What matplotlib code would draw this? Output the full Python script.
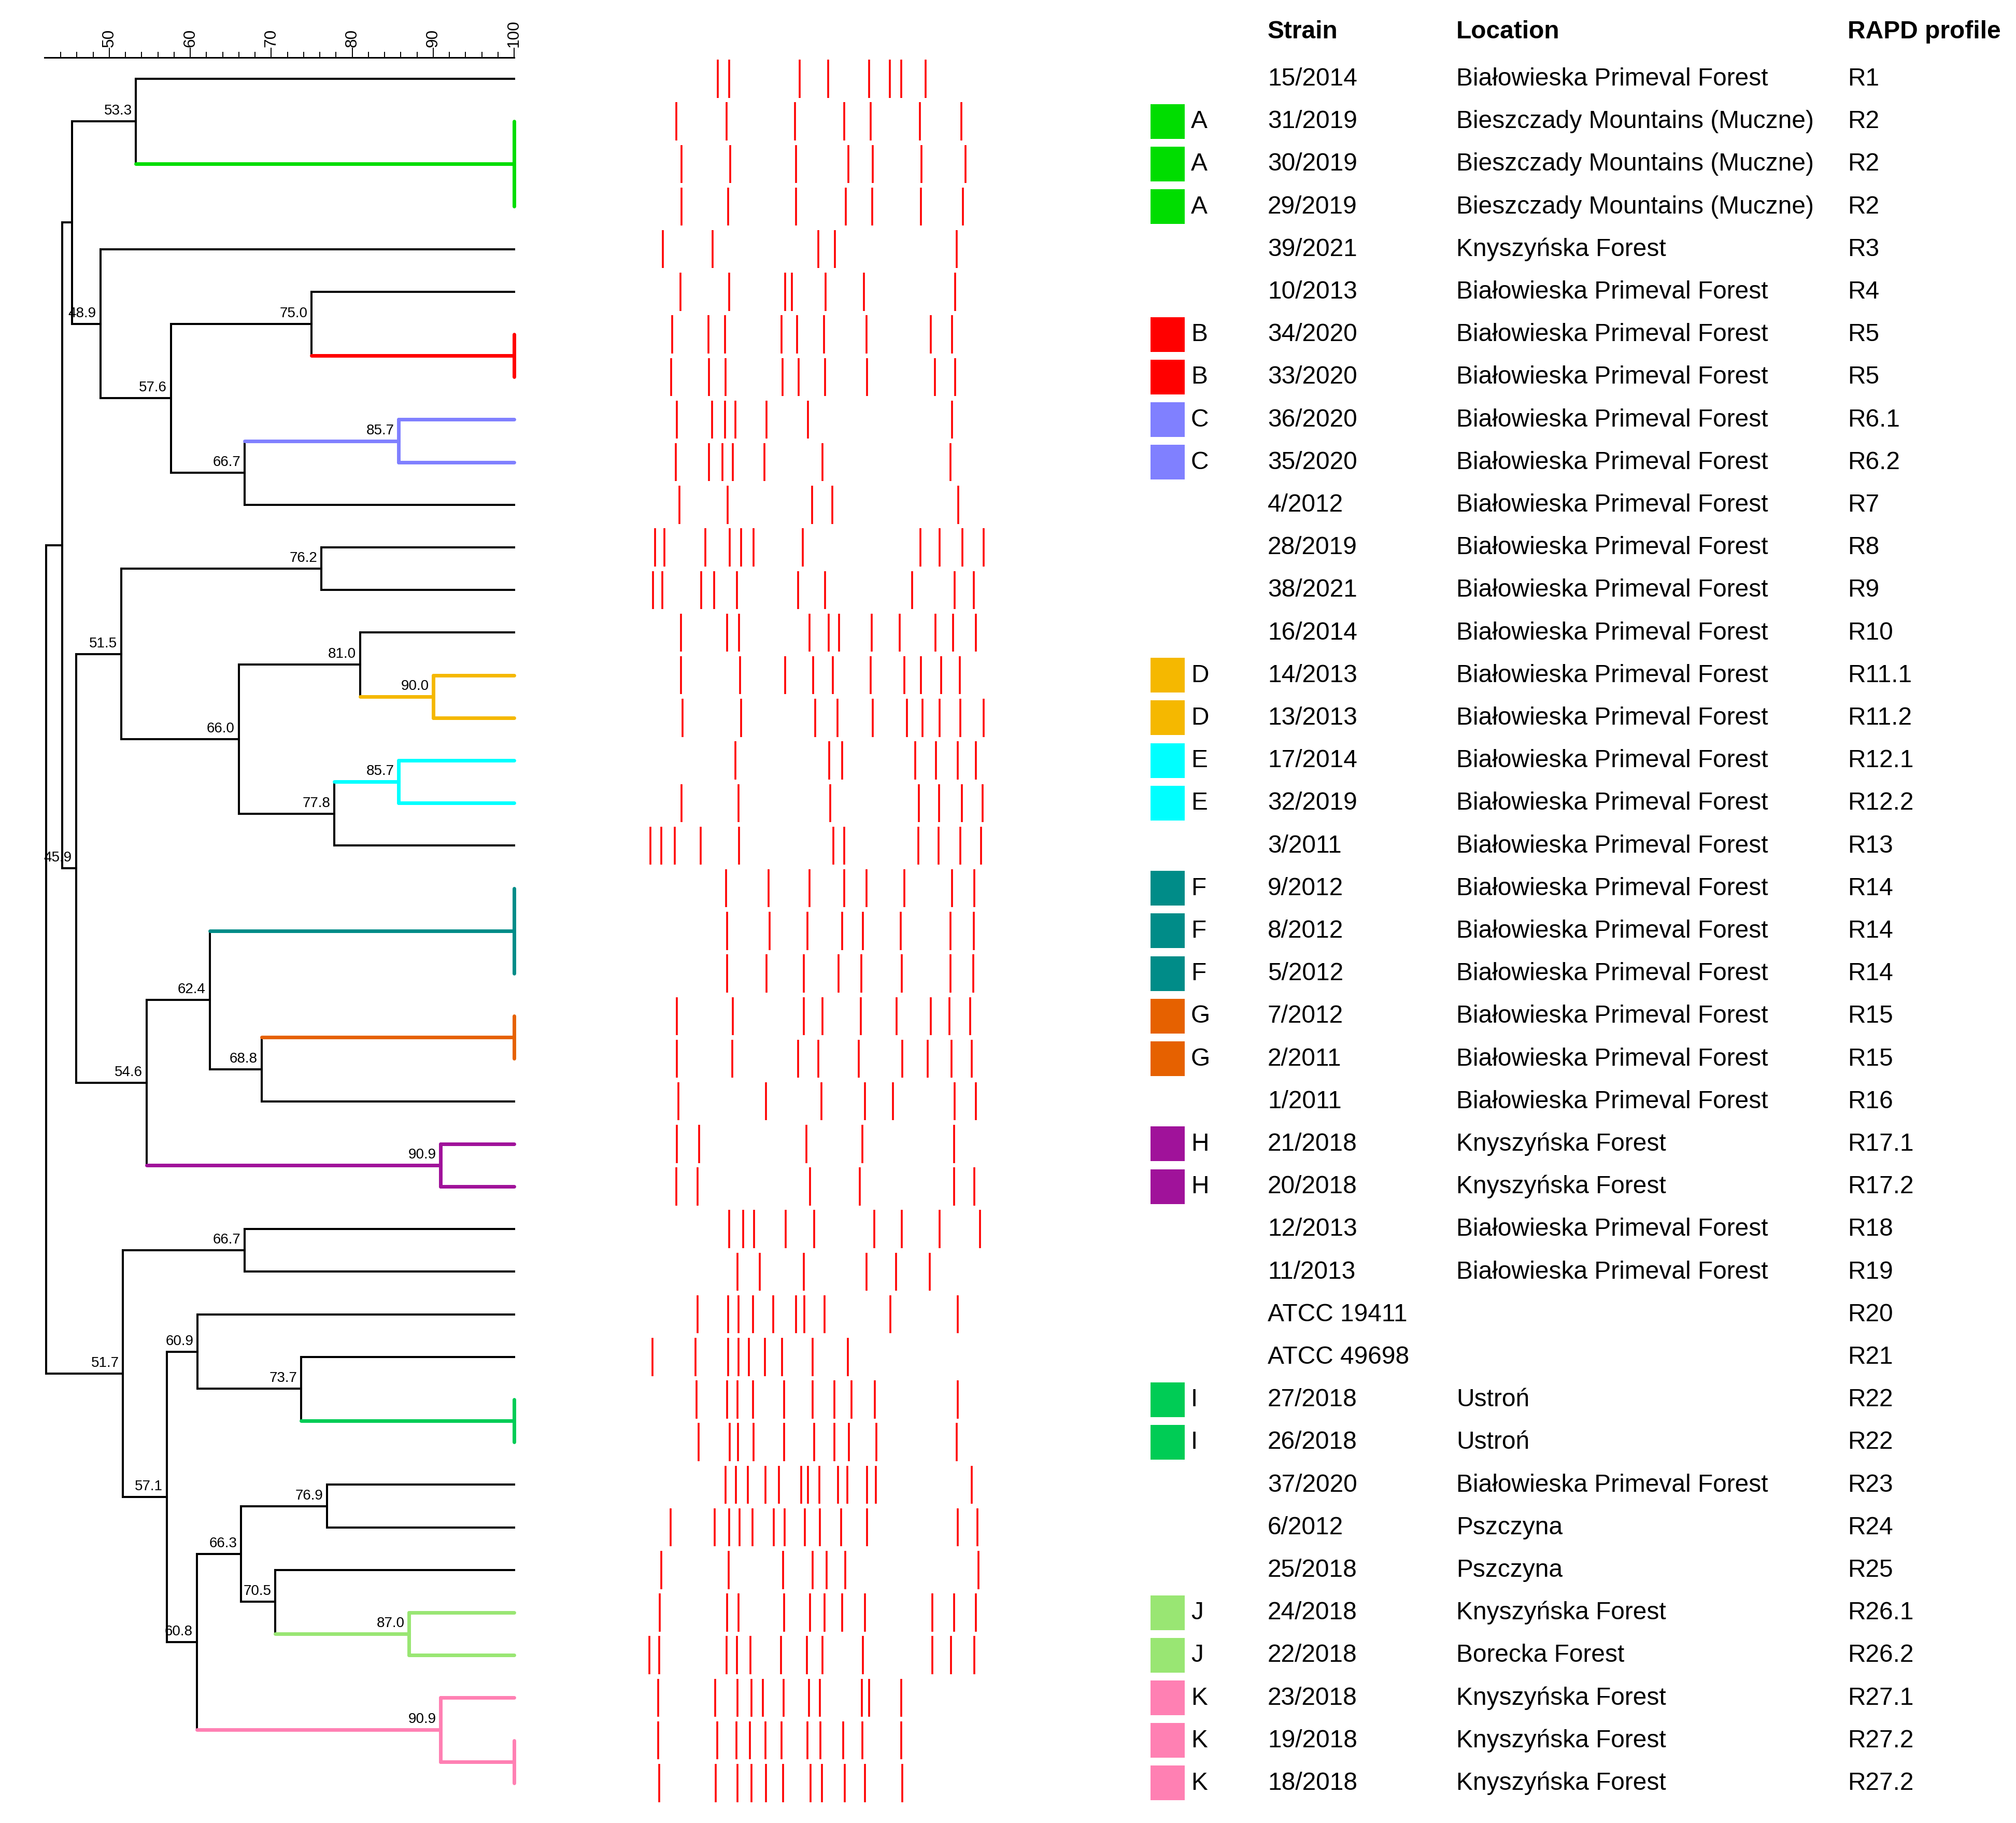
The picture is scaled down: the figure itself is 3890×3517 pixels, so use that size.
import matplotlib
matplotlib.use('Agg')
import matplotlib.pyplot as plt
from matplotlib.transforms import blended_transform_factory
from matplotlib.ticker import FixedLocator

plt.rcParams['font.family'] = ['Liberation Sans', 'DejaVu Sans']

# ---------------- data ----------------
strains = ['15/2014', '31/2019', '30/2019', '29/2019', '39/2021', '10/2013', '34/2020', '33/2020',
           '36/2020', '35/2020', '4/2012', '28/2019', '38/2021', '16/2014', '14/2013', '13/2013',
           '17/2014', '32/2019', '3/2011', '9/2012', '8/2012', '5/2012', '7/2012', '2/2011',
           '1/2011', '21/2018', '20/2018', '12/2013', '11/2013', 'ATCC 19411', 'ATCC 49698',
           '27/2018', '26/2018', '37/2020', '6/2012', '25/2018', '24/2018', '22/2018', '23/2018',
           '19/2018', '18/2018']

BPF = 'Białowieska Primeval Forest'
BMM = 'Bieszczady Mountains (Muczne)'
KF = 'Knyszyńska Forest'
locations = [BPF, BMM, BMM, BMM, KF, BPF, BPF, BPF, BPF, BPF, BPF, BPF, BPF, BPF, BPF, BPF,
             BPF, BPF, BPF, BPF, BPF, BPF, BPF, BPF, BPF, KF, KF, BPF, BPF, '', '',
             'Ustroń', 'Ustroń', BPF, 'Pszczyna', 'Pszczyna', KF, 'Borecka Forest', KF, KF, KF]

profiles = ['R1', 'R2', 'R2', 'R2', 'R3', 'R4', 'R5', 'R5', 'R6.1', 'R6.2', 'R7', 'R8', 'R9',
            'R10', 'R11.1', 'R11.2', 'R12.1', 'R12.2', 'R13', 'R14', 'R14', 'R14', 'R15', 'R15',
            'R16', 'R17.1', 'R17.2', 'R18', 'R19', 'R20', 'R21', 'R22', 'R22', 'R23', 'R24',
            'R25', 'R26.1', 'R26.2', 'R27.1', 'R27.2', 'R27.2']

groups = ['', 'A', 'A', 'A', '', '', 'B', 'B', 'C', 'C', '', '', '', '', 'D', 'D', 'E', 'E', '',
          'F', 'F', 'F', 'G', 'G', '', 'H', 'H', '', '', '', '', 'I', 'I', '', '', '', 'J', 'J',
          'K', 'K', 'K']

group_colors = {'A': '#00DD00', 'B': '#FF0000', 'C': '#8080FF', 'D': '#F5B800', 'E': '#00FFFF',
                'F': '#008C88', 'G': '#E66100', 'H': '#A0129A', 'I': '#00CC55', 'J': '#99E673',
                'K': '#FF80B3'}

# dendrogram nodes: key -> (similarity %, children, shown label)
tree_nodes = {
    'A': (100.0, [1, 2, 3], ''),
    'n53_3': (53.3, [0, 'A'], '53.3'),
    'B': (100.0, [6, 7], ''),
    'n75_0': (75.0, [5, 'B'], '75.0'),
    'C': (85.7, [8, 9], '85.7'),
    'n66_7a': (66.7, ['C', 10], '66.7'),
    'n57_6': (57.6, ['n75_0', 'n66_7a'], '57.6'),
    'n48_9': (48.9, [4, 'n57_6'], '48.9'),
    'n45_4': (45.4, ['n53_3', 'n48_9'], ''),
    'n76_2': (76.2, [11, 12], '76.2'),
    'D': (90.0, [14, 15], '90.0'),
    'n81_0': (81.0, [13, 'D'], '81.0'),
    'E': (85.7, [16, 17], '85.7'),
    'n77_8': (77.8, ['E', 18], '77.8'),
    'n66_0': (66.0, ['n81_0', 'n77_8'], '66.0'),
    'n51_5': (51.5, ['n76_2', 'n66_0'], '51.5'),
    'F': (100.0, [19, 20, 21], ''),
    'G': (100.0, [22, 23], ''),
    'n68_8': (68.8, ['G', 24], '68.8'),
    'n62_4': (62.4, ['F', 'n68_8'], '62.4'),
    'H': (90.9, [25, 26], '90.9'),
    'n54_6': (54.6, ['n62_4', 'H'], '54.6'),
    'n45_9': (45.9, ['n51_5', 'n54_6'], '45.9'),
    'n44_2': (44.2, ['n45_4', 'n45_9'], ''),
    'n66_7b': (66.7, [27, 28], '66.7'),
    'I': (100.0, [31, 32], ''),
    'n73_7': (73.7, [30, 'I'], '73.7'),
    'n60_9': (60.9, [29, 'n73_7'], '60.9'),
    'n76_9': (76.9, [33, 34], '76.9'),
    'J': (87.0, [36, 37], '87.0'),
    'n70_5': (70.5, [35, 'J'], '70.5'),
    'n66_3': (66.3, ['n76_9', 'n70_5'], '66.3'),
    'K2': (100.0, [39, 40], ''),
    'K': (90.9, [38, 'K2'], '90.9'),
    'n60_8': (60.8, ['n66_3', 'K'], '60.8'),
    'n57_1': (57.1, ['n60_9', 'n60_8'], '57.1'),
    'n51_7': (51.7, ['n66_7b', 'n57_1'], '51.7'),
    'root': (42.2, ['n44_2', 'n51_7'], ''),
}
cluster_color = {'A': 'A', 'B': 'B', 'C': 'C', 'D': 'D', 'E': 'E', 'F': 'F', 'G': 'G',
                 'H': 'H', 'I': 'I', 'J': 'J', 'K': 'K'}

# RAPD band positions per strain (position along the lane, gel units 0-1550)
band_positions = [
    [333, 381, 673, 792, 962, 1049, 1095, 1197],
    [161, 370, 655, 860, 968, 1173, 1346],
    [183, 385, 659, 877, 977, 1180, 1363],
    [183, 376, 659, 866, 975, 1178, 1352],
    [106, 313, 751, 821, 1326],
    [178, 381, 613, 642, 781, 940, 1319],
    [145, 296, 363, 598, 664, 775, 951, 1219, 1306],
    [139, 298, 366, 603, 670, 779, 954, 1235, 1319],
    [163, 311, 363, 407, 535, 709, 1306],
    [159, 298, 352, 396, 527, 768, 1300],
    [174, 374, 725, 809, 1332],
    [73, 113, 281, 383, 431, 483, 686, 1176, 1256, 1350, 1437],
    [65, 104, 265, 319, 413, 668, 779, 1141, 1317, 1398],
    [180, 372, 422, 714, 795, 838, 973, 1089, 1237, 1310, 1406],
    [180, 426, 613, 729, 812, 969, 1108, 1178, 1261, 1339],
    [187, 431, 738, 831, 977, 1119, 1184, 1256, 1341, 1437],
    [407, 797, 851, 1154, 1239, 1330, 1406],
    [183, 420, 801, 1169, 1252, 1348, 1433],
    [54, 98, 156, 263, 422, 814, 860, 1167, 1250, 1341, 1428],
    [368, 544, 714, 860, 951, 1108, 1306, 1400],
    [372, 548, 707, 851, 936, 1093, 1300, 1398],
    [372, 535, 692, 836, 930, 1097, 1300, 1395],
    [163, 396, 690, 768, 927, 1077, 1219, 1295, 1382],
    [163, 394, 668, 751, 919, 1099, 1206, 1304, 1389],
    [169, 533, 764, 945, 1062, 1317, 1406],
    [163, 257, 701, 934, 1315],
    [161, 250, 716, 923, 1315, 1400],
    [381, 440, 485, 616, 734, 984, 1097, 1256, 1424],
    [416, 509, 692, 951, 1075, 1215],
    [250, 376, 420, 479, 564, 659, 694, 777, 1051, 1330],
    [63, 241, 376, 420, 463, 529, 601, 727, 873],
    [246, 372, 416, 481, 609, 727, 818, 890, 986, 1330],
    [254, 383, 418, 483, 609, 734, 818, 879, 992, 1326],
    [366, 409, 459, 531, 587, 681, 709, 755, 833, 871, 953, 991, 1389],
    [137, 320, 381, 424, 477, 566, 611, 696, 757, 845, 953, 1330, 1413],
    [100, 378, 605, 727, 786, 864, 1417],
    [93, 372, 420, 609, 716, 777, 851, 945, 1224, 1315, 1406],
    [50, 91, 370, 413, 470, 596, 703, 768, 936, 1224, 1302, 1400],
    [87, 322, 416, 474, 520, 607, 712, 757, 932, 962, 1095],
    [87, 331, 411, 468, 531, 598, 707, 760, 855, 934, 1095],
    [91, 326, 415, 474, 533, 605, 720, 766, 862, 945, 1099],
]

major_ticks = [50, 60, 70, 80, 90, 100]
minor_ticks = [44, 46, 48, 52, 54, 56, 58, 62, 64, 66, 68, 72, 74, 76, 78,
               82, 84, 86, 88, 92, 94, 96, 98]
headers = ['Strain', 'Location', 'RAPD profile']

# ---------------- layout ----------------
W, H = 3890, 3517
DPI = 100
fig = plt.figure(figsize=(W / DPI, H / DPI), dpi=DPI)


def rect(l, t, r, b):
    return [l / W, 1 - b / H, (r - l) / W, (b - t) / H]


TOP, BOT = 110.8, 3480.9
n = len(strains)
YLIM = (n - 0.5, -0.5)

ax = fig.add_axes(rect(85.8, TOP, 992, BOT))
ax.set_xlim(42, 100)
ax.set_ylim(*YLIM)
for s in ['left', 'right', 'bottom']:
    ax.spines[s].set_visible(False)
ax.spines['top'].set_linewidth(2.2)
ax.xaxis.tick_top()
ax.set_yticks([])
ax.xaxis.set_major_locator(FixedLocator(major_ticks))
ax.xaxis.set_minor_locator(FixedLocator(minor_ticks))
ax.set_xticklabels([str(t) for t in major_ticks], rotation=90, fontsize=22.7)
ax.tick_params(axis='x', which='major', length=13.5, width=1.4, pad=1, direction='out')
ax.tick_params(axis='x', which='minor', length=7.8, width=1.4, direction='out')

# compute node positions & colors
pos = {}
col = {}


def get_pos(key):
    if isinstance(key, int):
        return (100.0, float(key))
    if key in pos:
        return pos[key]
    sim, ch, _ = tree_nodes[key]
    ys = [get_pos(c)[1] for c in ch]
    pos[key] = (sim, sum(ys) / len(ys))
    return pos[key]


def assign_color(key, color):
    col[key] = color
    if not isinstance(key, int):
        for c in tree_nodes[key][1]:
            assign_color(c, color)


for k in tree_nodes:
    get_pos(k)
for k, g in cluster_color.items():
    assign_color(k, group_colors[g])

BLACK_LW, COL_LW = 2.9, 5.0
for key, (sim, ch, lab) in tree_nodes.items():
    x, y = pos[key]
    ys = [get_pos(c)[1] for c in ch]
    vc = col.get(key, 'black')
    lw = COL_LW if key in col else BLACK_LW
    cap = 'round' if key in col else 'projecting'
    ax.plot([x, x], [min(ys), max(ys)], color=vc, lw=lw, solid_capstyle=cap,
            clip_on=False, zorder=3 if key in col else 2)
    for c in ch:
        cx, cy = get_pos(c)
        if cx <= x:
            continue
        hc = col.get(c, col.get(key, 'black'))
        colored = c in col
        ax.plot([x, cx], [cy, cy], color=hc, lw=COL_LW if colored else BLACK_LW,
                solid_capstyle='round' if colored else 'projecting', clip_on=False,
                zorder=3 if colored else 2)
    if lab:
        ax.text(x - 0.5, y - 0.085, lab, ha='right', va='bottom', fontsize=20, zorder=4)

# bands
axb = fig.add_axes(rect(1230, TOP, 1950, BOT))
axb.set_xlim(0, 1550)
axb.set_ylim(*YLIM)
axb.axis('off')
for r, bp in enumerate(band_positions):
    axb.vlines(bp, r - 0.447, r + 0.447, color='#FF0000', lw=2.6)

# group squares
axs = fig.add_axes(rect(2220, TOP, 2286, BOT))
axs.set_xlim(0, 1)
axs.set_ylim(*YLIM)
axs.axis('off')
rows_g = [r for r, g in enumerate(groups) if g]
axs.barh(rows_g, [1] * len(rows_g), height=0.815, left=0,
         color=[group_colors[groups[r]] for r in rows_g])

# text table
tr = blended_transform_factory(fig.transFigure, ax.transData)
FS = 34.5
BASE = 0.16
COLX = [2446, 2810, 3565]
for r in range(n):
    if groups[r]:
        fig.text(2298 / W, r + BASE, groups[r], transform=tr, va='baseline', fontsize=FS)
    fig.text(COLX[0] / W, r + BASE, strains[r], transform=tr, va='baseline', fontsize=FS)
    if locations[r]:
        fig.text(COLX[1] / W, r + BASE, locations[r], transform=tr, va='baseline', fontsize=FS)
    fig.text(COLX[2] / W, r + BASE, profiles[r], transform=tr, va='baseline', fontsize=FS)

for hx, h in zip(COLX, headers):
    fig.text(hx / W, -0.95, h, transform=tr, va='baseline', fontsize=FS, fontweight='bold')

fig.savefig('out.png', dpi=DPI, facecolor='white')
